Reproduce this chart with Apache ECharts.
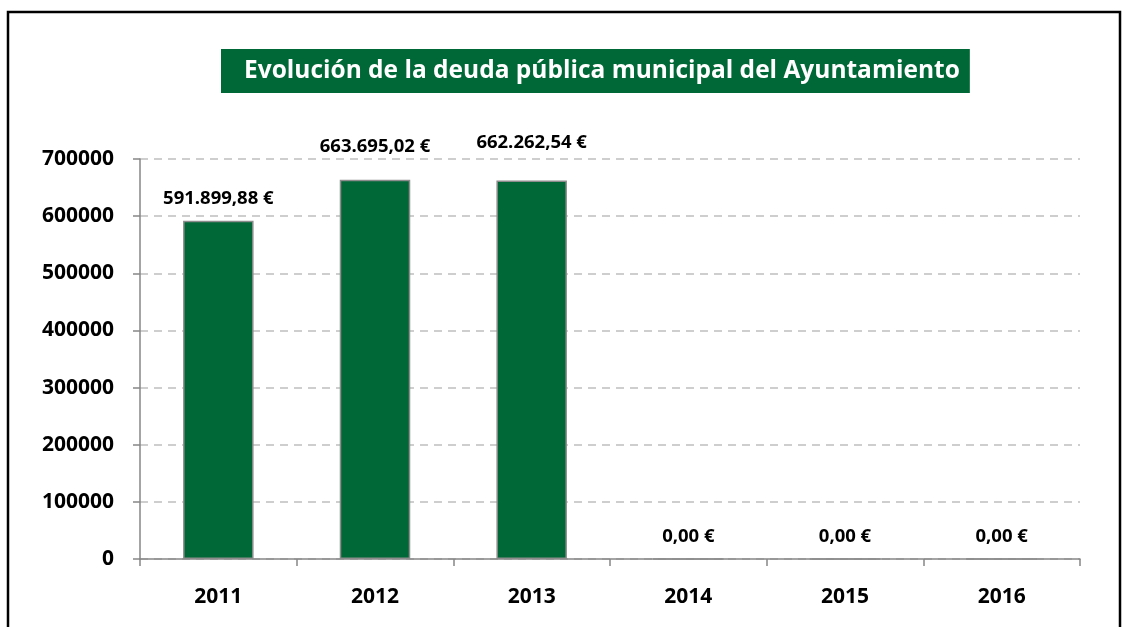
<!DOCTYPE html>
<html>
<head>
<meta charset="utf-8">
<script src="https://cdn.jsdelivr.net/npm/echarts@6/dist/echarts.min.js"></script>
<style>
  html, body { margin: 0; padding: 0; background: #fff; }
  #chart { width: 1130px; height: 627px; }
</style>
</head>
<body>
<div id="chart"></div>
<script>
const years = ['2011', '2012', '2013', '2014', '2015', '2016']
const deuda = [591899.88, 663695.02, 662262.54, 0, 0, 0]
const yTicks = [0, 100000, 200000, 300000, 400000, 500000, 600000, 700000]

const FONT = '"Open Sans", "Noto Sans", sans-serif'
const GREEN = '#006837'

// labels in the original sit a little higher over the taller bars
const labelGap = [13, 24, 28, 12, 12, 12]

function euro(v) {
  const [ent, dec] = v.toFixed(2).split('.')
  return ent.replace(/\B(?=(\d{3})+(?!\d))/g, '.') + ',' + dec + ' €'
}

const chart = echarts.init(document.getElementById('chart'))
chart.setOption({
  backgroundColor: '#fff',
  animation: false,
  title: {
    text: 'Evolución de la deuda pública municipal del Ayuntamiento',
    left: 221,
    top: 49,
    padding: [9, 10, 9, 23],
    backgroundColor: GREEN,
    textStyle: { color: '#fff', fontFamily: FONT, fontWeight: 'bold', fontSize: 24.5, lineHeight: 26 },
  },
  graphic: [
    {
      type: 'rect',
      shape: { x: 8, y: 12, width: 1112, height: 700 },
      style: { fill: 'none', stroke: '#000', lineWidth: 2.5 },
      silent: true,
    },
  ],
  grid: { left: 140, right: 50, top: 159, bottom: 68 },
  xAxis: {
    type: 'category',
    data: years,
    axisLine: { lineStyle: { color: '#868686', width: 1.5 } },
    axisTick: { show: true, length: 7, lineStyle: { color: '#868686', width: 1.5 } },
    axisLabel: { color: '#000', fontFamily: FONT, fontWeight: 'bold', fontSize: 21, margin: 28 },
  },
  yAxis: {
    type: 'value',
    min: yTicks[0],
    max: yTicks[yTicks.length - 1],
    interval: yTicks[1] - yTicks[0],
    axisLine: { show: true, lineStyle: { color: '#868686', width: 1.5 } },
    axisTick: { show: true, length: 7, lineStyle: { color: '#868686', width: 1.5 } },
    axisLabel: {
      color: '#000', fontFamily: FONT, fontWeight: 'bold', fontSize: 21, margin: 26,
      formatter: v => String(v),
    },
    splitLine: { show: true, lineStyle: { color: '#bfbfbf', width: 1.5, type: [8, 6] } },
  },
  series: [
    {
      type: 'bar',
      barWidth: '45%',
      data: deuda.map((v, i) => ({
        value: v,
        label: { distance: labelGap[i] },
      })),
      itemStyle: { color: GREEN, borderColor: '#8c8c8c', borderWidth: 1.5 },
      label: {
        show: true,
        position: 'top',
        color: '#000',
        fontFamily: FONT,
        fontWeight: 'bold',
        fontSize: 18.5,
        formatter: p => euro(p.value),
      },
    },
  ],
})
</script>
</body>
</html>
